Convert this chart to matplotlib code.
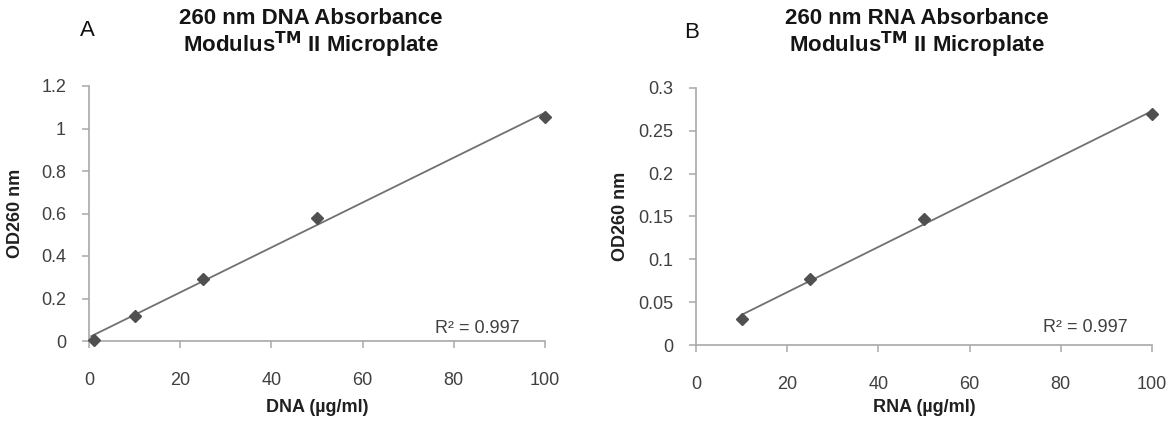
import numpy as np
import matplotlib
matplotlib.use("Agg")
import matplotlib.pyplot as plt

dna_conc = [1, 10, 25, 50, 100]
dna_od = [0.005, 0.12, 0.293, 0.58, 1.055]
rna_conc = [10, 25, 50, 100]
rna_od = [0.030, 0.077, 0.147, 0.270]

dna_yticks = [0, 0.2, 0.4, 0.6, 0.8, 1, 1.2]
dna_yticklabels = ["0", "0.2", "0.4", "0.6", "0.8", "1", "1.2"]
rna_yticks = [0, 0.05, 0.1, 0.15, 0.2, 0.25, 0.3]
rna_yticklabels = ["0", "0.05", "0.1", "0.15", "0.2", "0.25", "0.3"]
xticks = [0, 20, 40, 60, 80, 100]

plt.rcParams['font.family'] = ['Liberation Sans', 'DejaVu Sans']

W, H = 1168, 421
fig = plt.figure(figsize=(W/100, H/100), dpi=100)
axA = fig.add_axes([89/W, 1-341/H, (545-89)/W, (341-86)/H])
axB = fig.add_axes([696/W, 1-345/H, (1152-696)/W, (345-88)/H])

def style(ax, x, y, yticks, ylabels, ymax, xlabel, title, letter, letter_xy,
          title_x, rx, ry, ylab_x, xlab_y):
    ax.plot(x, y, linestyle='none', marker='D', markersize=6.5, color='#505050', zorder=3,
            clip_on=False)
    m, b = np.polyfit(x, y, 1)
    xs = np.array([min(x) - 0.5 if min(x) < 5 else min(x), max(x)])
    ax.plot(xs, m*xs + b, color='#707070', lw=1.3, zorder=2)
    ax.set_xlim(0, 100)
    ax.set_ylim(0, ymax)
    ax.set_xticks(xticks)
    ax.set_yticks(yticks)
    ax.set_yticklabels(ylabels)
    for s in ['top', 'right']:
        ax.spines[s].set_visible(False)
    for s in ['left', 'bottom']:
        ax.spines[s].set_color('#a8a8a8')
        ax.spines[s].set_linewidth(1.2)
    ax.tick_params(axis='x', direction='out', length=5, width=1.1, color='#a8a8a8', pad=17,
                   labelsize=13, labelcolor='#404040')
    ax.tick_params(axis='y', direction='out', length=5, width=1.1, color='#a8a8a8', pad=11.5,
                   labelsize=13, labelcolor='#404040')
    ax.set_xlabel(xlabel, fontsize=13, fontweight='bold', color='#202020')
    ax.xaxis.set_label_coords(0.5, xlab_y)
    ax.set_ylabel('OD260 nm', fontsize=13, fontweight='bold', color='#202020')
    ax.yaxis.set_label_coords(ylab_x, 0.5)
    fig.text(title_x, 1-34/H, title, fontsize=16, fontweight='bold', color='#151515',
             ha='center', va='center', linespacing=1.0)
    fig.text(letter_xy[0], letter_xy[1], letter, fontsize=16, color='#111111',
             va='center', ha='left')
    ax.text(rx, ry, 'R² = 0.997', transform=ax.transAxes, fontsize=13,
            color='#404040', ha='right', va='baseline')

style(axA, dna_conc, dna_od, dna_yticks, dna_yticklabels, 1.2, 'DNA (µg/ml)',
      '260 nm DNA Absorbance\nModulus$^{\\mathbf{TM}}$ II Microplate', 'A',
      (80/W, 1-30/H), 311/W, 0.945, 0.03, -0.143, -(399-341)/255)
style(axB, rna_conc, rna_od, rna_yticks, rna_yticklabels, 0.3, 'RNA (µg/ml)',
      '260 nm RNA Absorbance\nModulus$^{\\mathbf{TM}}$ II Microplate', 'B',
      (684/W, 1-32/H), 917/W, 0.947, 0.05, -0.147, -(399-345)/257)

fig.savefig('out.png', dpi=100, facecolor='white')
